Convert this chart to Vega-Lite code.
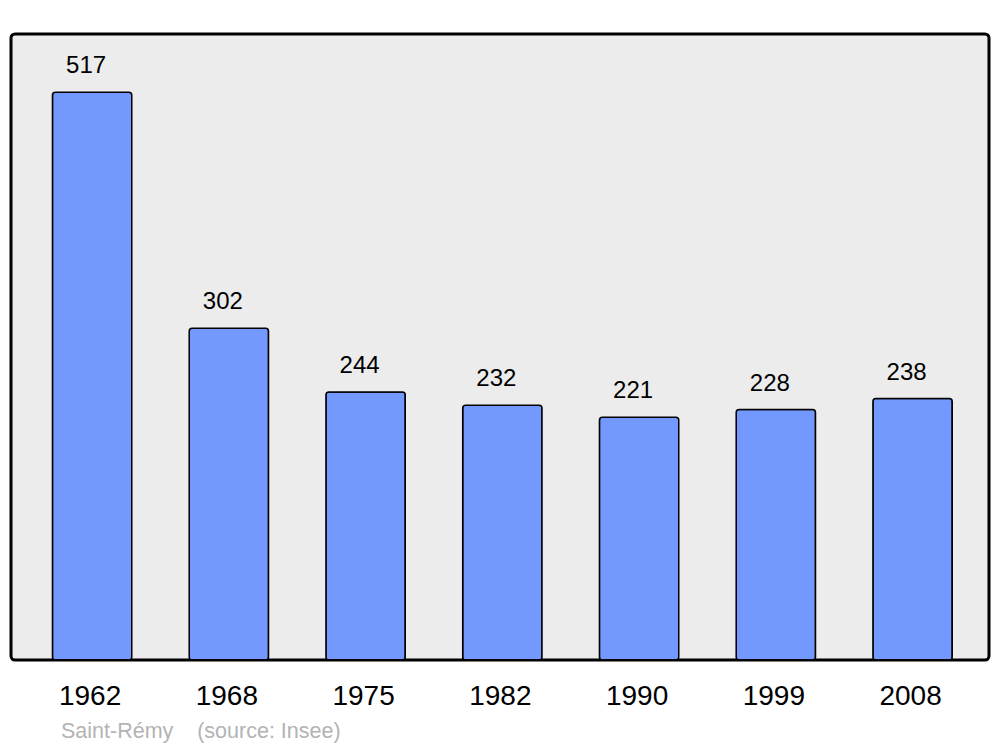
{
  "$schema": "https://vega.github.io/schema/vega-lite/v6.json",
  "width": 978,
  "height": 626,
  "autosize": {"type": "none"},
  "padding": {"left": 11, "top": 34, "right": 11, "bottom": 87},
  "background": "#ffffff",
  "config": {
    "font": "Liberation Sans",
    "view": {"fill": "#ececec", "stroke": "#000000", "strokeWidth": 3, "cornerRadius": 4}
  },
  "title": {
    "text": "Saint-Rémy\u00a0\u00a0\u00a0\u00a0(source: Insee)",
    "orient": "bottom",
    "anchor": "start",
    "dx": 50,
    "offset": 11,
    "color": "#b3b3b3",
    "fontSize": 21.5,
    "fontWeight": "normal",
    "font": "Liberation Sans"
  },
  "data": {
    "values": [
      {"year": "1962", "pop": 517},
      {"year": "1968", "pop": 302},
      {"year": "1975", "pop": 244},
      {"year": "1982", "pop": 232},
      {"year": "1990", "pop": 221},
      {"year": "1999", "pop": 228},
      {"year": "2008", "pop": 238}
    ]
  },
  "encoding": {
    "x": {
      "field": "year",
      "type": "nominal",
      "sort": null,
      "scale": {"paddingInner": 0.42, "paddingOuter": 0.286, "align": 0.53},
      "axis": {
        "title": null,
        "domain": false,
        "ticks": false,
        "labelAngle": 0,
        "labelFontSize": 28,
        "labelColor": "#000000",
        "labelPadding": 22,
        "labelOffset": -2,
        "labelFont": "Liberation Sans"
      }
    },
    "y": {
      "field": "pop",
      "type": "quantitative",
      "scale": {"domain": [0, 570], "nice": false},
      "axis": null
    }
  },
  "layer": [
    {
      "mark": {"type": "bar", "fill": "#7399ff", "stroke": "#000000", "strokeWidth": 1.5, "cornerRadius": 3}
    },
    {
      "mark": {"type": "text", "baseline": "bottom", "dy": -14, "dx": -6, "fontSize": 24, "color": "#000000"},
      "encoding": {"text": {"field": "pop", "type": "quantitative"}}
    }
  ]
}
